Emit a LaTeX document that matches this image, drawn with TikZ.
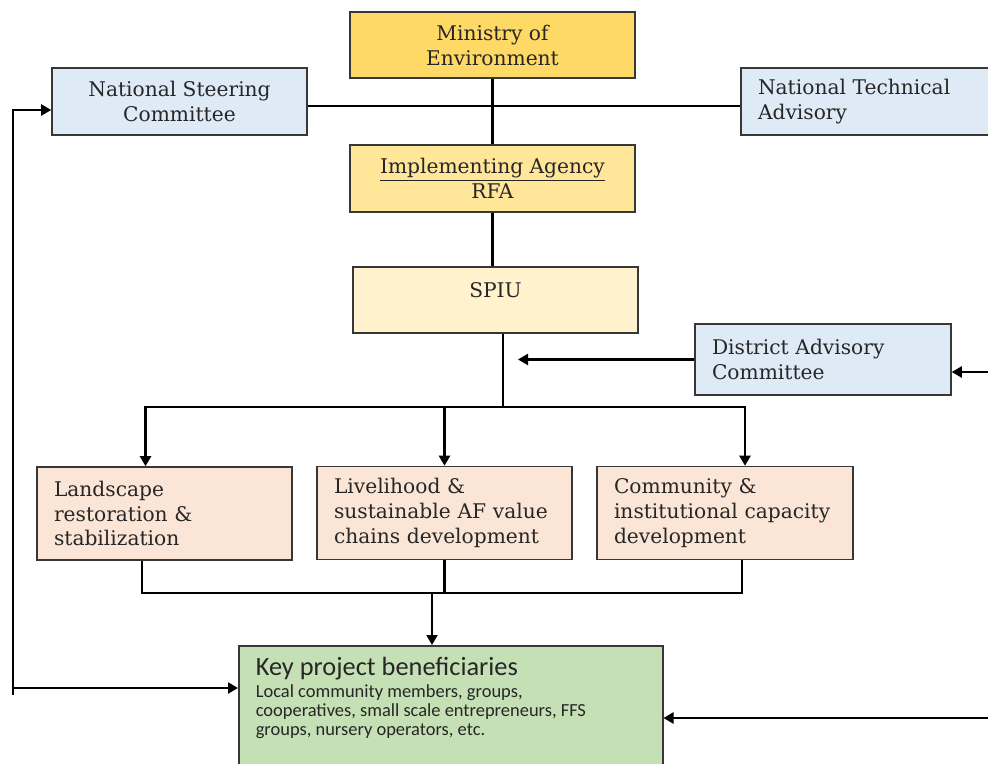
\documentclass[tikz,border=0pt]{standalone}
\usepackage{fontspec}
\setmainfont{DejaVu Serif}
\newfontfamily\benefont{Carlito}
\usetikzlibrary{arrows.meta, positioning, calc}

\definecolor{ministrygold}{RGB}{255, 217, 102}
\definecolor{agencyyellow}{RGB}{255, 230, 153}
\definecolor{spiucream}{RGB}{255, 242, 204}
\definecolor{advisoryblue}{RGB}{222, 235, 247}
\definecolor{componentpeach}{RGB}{251, 229, 214}
\definecolor{benefgreen}{RGB}{197, 224, 180}
\definecolor{boxline}{RGB}{55, 55, 55}

\tikzset{
  orgbox/.style={draw=boxline, line width=0.9pt, minimum height=1.34cm, inner xsep=0.34cm, text=black!85, font=\fontsize{11.5}{14.2}\selectfont},
  link/.style={line width=1.2pt},
  flow/.style={line width=1.3pt, -{Triangle[length=0.2cm, width=0.22cm]}}
}

\begin{document}
\begin{tikzpicture}[x=0.02cm, y=-0.02cm]
  \useasboundingbox (0,0) rectangle (988,764);

  % Governance level
  \node[orgbox, fill=ministrygold, minimum width=5.7cm, minimum height=1.32cm, align=center] (ministry) at (492.5,45) {Ministry of\\Environment};
  \node[orgbox, fill=advisoryblue, minimum width=5.1cm, align=center] (nsc) at (179.5,101.5) {National Steering\\Committee};
  \node[orgbox, fill=advisoryblue, text width=4.48cm, align=left] (nta) at (870,101.5) {National Technical\\Advisory};
  \node[orgbox, fill=agencyyellow, minimum width=5.7cm, align=center] (agency) at (492.5,178.5) {\underline{Implementing Agency}\\RFA};
  \node[orgbox, fill=spiucream, minimum width=5.7cm, minimum height=1.32cm, text depth=0.4cm] (spiu) at (495.5,300) {SPIU};
  \node[orgbox, fill=advisoryblue, text width=4.44cm, minimum height=1.42cm, align=left] (dac) at (823,359.5) {District Advisory\\Committee};

  % Components
  \node[orgbox, fill=componentpeach, text width=4.42cm, minimum height=1.86cm, align=left] (landscape) at (164.5,513.5) {Landscape\\restoration \&\\stabilization};
  \node[orgbox, fill=componentpeach, text width=4.42cm, minimum height=1.86cm, align=left] (livelihood) at (444.5,513) {Livelihood \&\\sustainable AF value\\chains development};
  \node[orgbox, fill=componentpeach, text width=4.44cm, minimum height=1.86cm, align=left] (capacity) at (725,513) {Community \&\\institutional capacity\\development};

  % Beneficiaries
  \node[orgbox, fill=benefgreen, inner ysep=0.22cm, anchor=north west] (benef) at (238,645) {%
    \begin{minipage}[t][2.46cm][t]{7.8cm}
      \benefont\fontsize{10.5}{10.8}\selectfont
      {\fontsize{15}{17}\selectfont Key project beneficiaries}\\[1.7pt]
      Local community members, groups,\\
      cooperatives, small scale entrepreneurs, FFS\\
      groups, nursery operators, etc.
    \end{minipage}};

  \coordinate (split) at (503,407);
  \coordinate (join) at (432,593);
  \coordinate (loop) at (13,688);
  \coordinate (daccall) at (518,361);
  \coordinate (dacin) at (1000,372);
  \coordinate (benefin) at (1000,718);

  % Lines
  \draw[link] (ministry.south) -- (agency.north);
  \draw[link] ([yshift=-0.09cm]nsc.east) -- ([yshift=-0.09cm]nta.west);
  \draw[link] (agency.south) -- (agency.south |- spiu.north);
  \draw[link] (spiu.south -| split) -- (split);
  \draw[flow] (split) -| ([xshift=-0.38cm]landscape.north);
  \draw[flow] (split) -| (livelihood.north);
  \draw[flow] (split) -| ([xshift=0.4cm]capacity.north);
  \draw[flow] (dac.west) -- (dac.west -| daccall);
  \draw[flow] (dacin) -- (dacin -| dac.east);
  \draw[link] ([xshift=-0.45cm]landscape.south) |- (join) -| ([xshift=0.34cm]capacity.south);
  \draw[link] (livelihood.south) -- (livelihood.south |- join);
  \draw[flow] (join) -- (join |- benef.north);

  % Feedback
  \draw[flow] ([yshift=-0.14cm]loop) |- ([yshift=-0.17cm]nsc.west);
  \draw[flow] (loop) -- (loop -| benef.west);
  \draw[flow] (benefin) -- (benefin -| benef.east);
\end{tikzpicture}
\end{document}
